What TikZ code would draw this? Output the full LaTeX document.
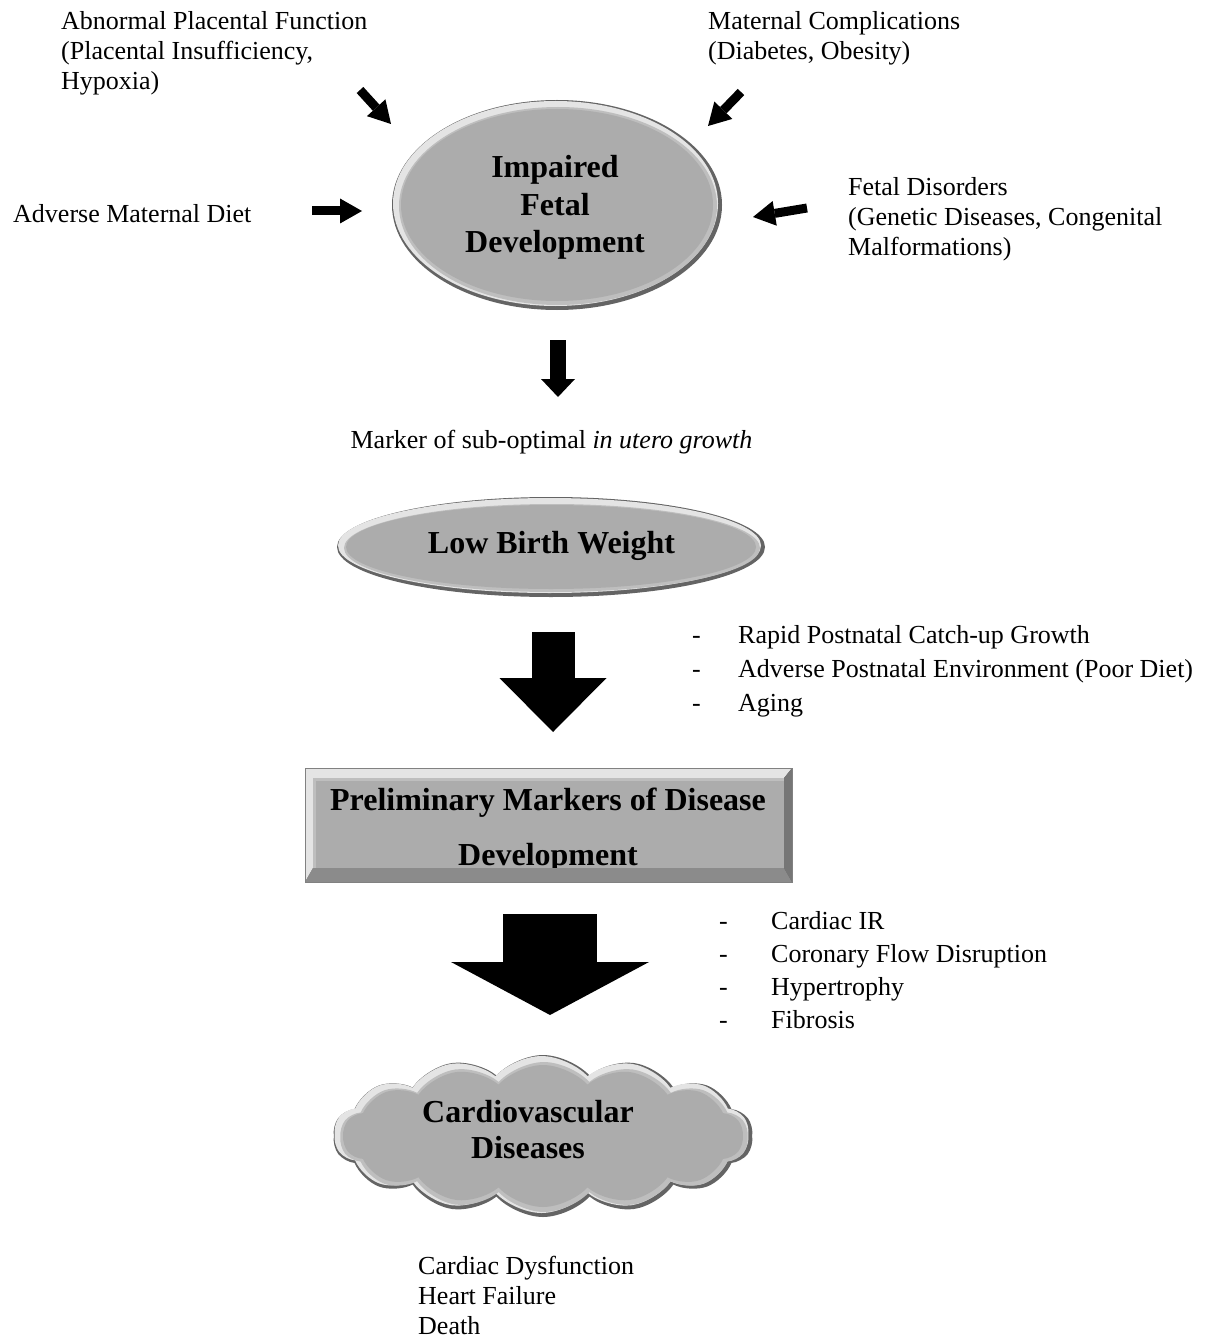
\documentclass[tikz,border=0pt]{standalone}
\usepackage{fontspec}
\setmainfont{Liberation Serif}
\usetikzlibrary{arrows.meta,shapes.geometric,shapes.symbols,calc}
\definecolor{mainfill}{RGB}{172,172,172}
\definecolor{rimdark}{RGB}{100,100,100}
\definecolor{rimmid}{RGB}{190,190,190}
\definecolor{rimlight}{RGB}{228,228,228}
\newcommand\bevelell[3]{%
  \fill[rimdark] (#1) ellipse [x radius=#2, y radius=#3];
  \fill[rimlight] ($(#1)+(-1.5,-1.5)$) ellipse [x radius=#2-2.5, y radius=#3-2.5];
  \fill[rimmid] ($(#1)+(1,1)$) ellipse [x radius=#2-6, y radius=#3-6];
}
\begin{document}
\begin{tikzpicture}[x=1pt,y=-1pt,
  txt/.style={font=\fontsize{26}{30}\selectfont, inner sep=0pt, align=left},
  btxt/.style={font=\bfseries\fontsize{32}{37.5}\selectfont, inner sep=0pt, align=center},
  smallarr/.style={line width=9pt, -{Triangle[width=25pt,length=22pt,line width=0pt]}},
  cloudbox/.style={cloud, cloud puffs=14, cloud puff arc=95, cloud ignores aspect, inner sep=0pt},
  ]
\useasboundingbox (0,0) rectangle (1223,1340);

% ---------- Impaired Fetal Development
\coordinate (e1c) at (557,205);
\bevelell{e1c}{165}{105}
\node[ellipse, fill=mainfill, minimum width=312pt, minimum height=192pt, inner sep=0pt]
  (ifd) at (e1c) {};
\node[btxt, anchor=base] (ifdtext) at (555,253) {Impaired\\Fetal\\Development};

% ---------- influencing factors
\node[txt, anchor=base west] (apf) at (61,90) {Abnormal Placental Function\\(Placental Insufficiency,\\Hypoxia)};
\node[txt, anchor=base west] (mc) at (708,60) {Maternal Complications\\(Diabetes, Obesity)};
\node[txt, anchor=base west] (amd) at (13,223) {Adverse Maternal Diet};
\node[txt, anchor=base west] (fd) at (848,255) {Fetal Disorders\\(Genetic Diseases, Congenital\\Malformations)};

\coordinate (a1s) at (360,90);  \coordinate (a1t) at (391,124);
\coordinate (a2s) at (741,92);  \coordinate (a2t) at (708,126);
\coordinate (a3s) at (312,211); \coordinate (a3t) at (362,211);
\coordinate (a4s) at (807,208); \coordinate (a4t) at (753,217);
\draw[smallarr] (a1s) -- (a1t);
\draw[smallarr] (a2s) -- (a2t);
\draw[smallarr] (a3s) -- (a3t);
\draw[smallarr] (a4s) -- (a4t);

% ---------- down arrow and marker text
\coordinate (a5s) at (558,340); \coordinate (a5t) at (558,397);
\draw[line width=16pt, -{Triangle[width=34pt,length=18pt,line width=0pt]}] (a5s) -- (a5t);
\node[txt, anchor=base] (marker) at (551.5,448) {Marker of sub-optimal \textit{in utero growth}};

% ---------- Low Birth Weight
\coordinate (e2c) at (551,547);
\bevelell{e2c}{214}{50}
\node[ellipse, fill=mainfill, minimum width=410pt, minimum height=84pt, inner sep=0pt]
  (lbw) at (e2c) {};
\node[btxt, anchor=base] (lbwtext) at (551.5,553) {Low Birth Weight};

% ---------- big arrow 1 and list
\coordinate (a6s) at (553,632); \coordinate (a6t) at (553,732);
\draw[line width=43pt, -{Triangle[width=107pt,length=54pt,line width=0pt]}] (a6s) -- (a6t);
\node[txt, anchor=base west, font=\fontsize{26}{34}\selectfont] (post) at (692,711)
  {\makebox[46pt][l]{-}Rapid Postnatal Catch-up Growth\\
   \makebox[46pt][l]{-}Adverse Postnatal Environment (Poor Diet)\\
   \makebox[46pt][l]{-}Aging};

% ---------- Preliminary markers box
\fill[rimdark] (305,768) rectangle (792,882);
\fill[rimlight] (305,768) -- (792,768) -- (784,778) -- (313,778) -- (313,868) -- (305,882) -- cycle;
\fill[rimmid] (313,778) -- (784,778) -- (784,781) -- (316,781) -- (316,868) -- (313,868) -- cycle;
\node[rectangle, fill=mainfill, minimum width=468pt, minimum height=87pt, inner sep=0pt, anchor=north west]
  (pmd) at (316,781) {};
\node[btxt, anchor=base, font=\bfseries\fontsize{32}{55}\selectfont] (pmdtext) at (548,865)
  {Preliminary Markers of Disease\\Development};
\fill[rimdark!45!mainfill] (313,868) -- (784,868) -- (792,882) -- (305,882) -- cycle;
\fill[rimdark!75!mainfill] (784,778) -- (792,768) -- (792,882) -- (784,868) -- cycle;
\draw[rimdark!60!mainfill, line width=0.8pt] (305,768) rectangle (792,882);

% ---------- big arrow 2 and list
\coordinate (a7s) at (550,914); \coordinate (a7t) at (550,1015);
\draw[line width=94pt, -{Triangle[width=198pt,length=53pt,line width=0pt]}] (a7s) -- (a7t);
\node[txt, anchor=base west, font=\fontsize{26}{32.7}\selectfont] (cardiac) at (719,1028)
  {\makebox[52pt][l]{-}Cardiac IR\\
   \makebox[52pt][l]{-}Coronary Flow Disruption\\
   \makebox[52pt][l]{-}Hypertrophy\\
   \makebox[52pt][l]{-}Fibrosis};

% ---------- Cloud
\node[cloudbox, fill=rimdark, minimum width=420pt, minimum height=162pt] (cl1) at (543,1136) {};
\node[cloudbox, fill=rimlight, minimum width=415pt, minimum height=157pt] (cl2) at (541.5,1134.5) {};
\node[cloudbox, fill=rimmid, minimum width=408pt, minimum height=150pt] (cl3) at (544,1137) {};
\node[cloudbox, fill=mainfill, minimum width=400pt, minimum height=142pt] (cvd) at (543,1136) {};
\node[btxt, anchor=base, font=\bfseries\fontsize{32}{36}\selectfont] (cvdtext) at (528,1158)
  {Cardiovascular\\Diseases};

% ---------- outcomes
\node[txt, anchor=base west, font=\fontsize{26}{30}\selectfont] (outc) at (418,1334)
  {Cardiac Dysfunction\\Heart Failure\\Death};
\end{tikzpicture}
\end{document}
